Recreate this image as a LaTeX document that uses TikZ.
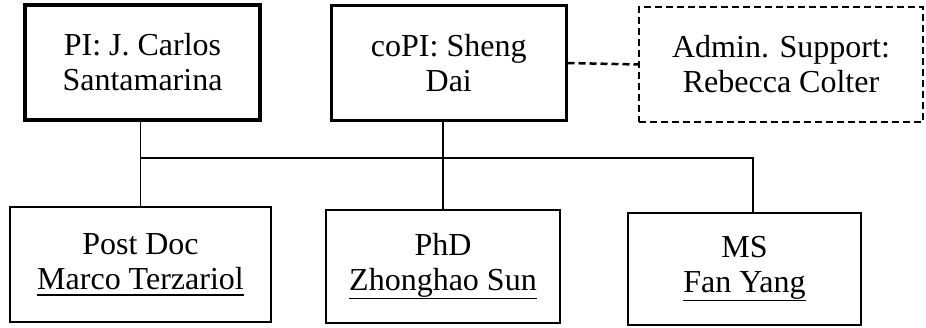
\documentclass[tikz,border=0pt]{standalone}
\usepackage{fontspec}
\setmainfont{Liberation Serif}
\newcommand\ulx[1]{\vtop{\hbox{#1\vrule width 0pt depth 5pt}\hrule height 1.8pt}}
\begin{document}
\begin{tikzpicture}[x=1pt,y=1pt,
  box/.style={draw, line width=2pt, align=center, inner sep=0pt, font=\fontsize{32}{35}\selectfont},
  conn/.style={line width=1.5pt}]
\useasboundingbox (0,0) rectangle (926,328);
\node[box, line width=4.5pt, minimum width=235, minimum height=115] (pi) at (142.5,265.5) {PI: J. Carlos\\Santamarina};
\node[box, line width=3pt, minimum width=234.5, minimum height=115] (copi) at (448.75,265) {coPI: Sheng\\Dai};
\node[box, dash pattern=on 7pt off 4pt, minimum width=284, minimum height=115] (adm) at (781,263.5) {Admin. Support:\\Rebecca Colter};
\node[box, minimum width=261, minimum height=115] (pd) at (140.5,63.5) {Post Doc\\\ulx{Marco Terzariol}};
\node[box, minimum width=234, minimum height=113] (phd) at (443,61.5) {PhD\\\ulx{Zhonghao Sun}};
\node[box, minimum width=233, minimum height=112] (ms) at (744.5,59) {MS\\\ulx{Fan Yang}};
\coordinate (hl) at (140,170);
\coordinate (hr) at (753,170);
\draw[conn] (pi.south -| pd.north) -- (pd.north);
\draw[conn] (hl) -- (hr) -- ([xshift=8.5pt]ms.north);
\draw[conn] (phd.north |- copi.south) -- (phd.north);
\draw[line width=2.5pt, dash pattern=on 7pt off 4pt] (copi.east) -- (adm.west);
\end{tikzpicture}
\end{document}
